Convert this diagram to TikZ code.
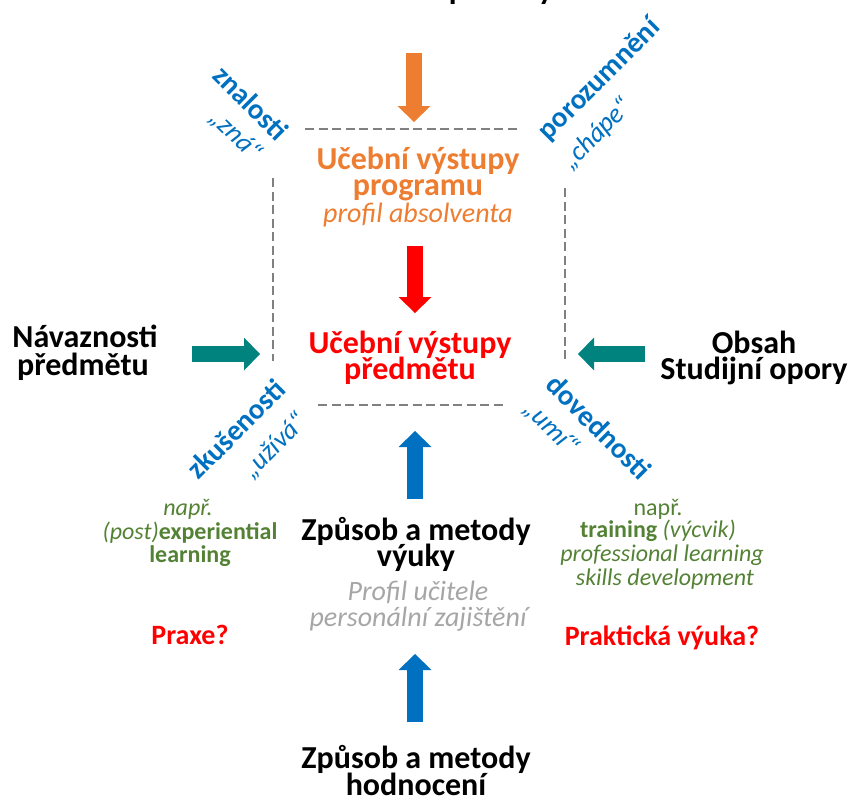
\documentclass[tikz,border=0pt]{standalone}
\usepackage{fontspec}
\setmainfont{Carlito}
\usetikzlibrary{arrows.meta}
\definecolor{orangeC}{HTML}{ED7D31}
\definecolor{redC}{HTML}{FF0000}
\definecolor{blueC}{HTML}{0070C0}
\definecolor{tealC}{HTML}{00827F}
\definecolor{greenC}{HTML}{548235}
\definecolor{grayT}{HTML}{A6A6A6}
\definecolor{dashC}{HTML}{808080}
\begin{document}
\begin{tikzpicture}[x=1pt,y=-1pt,
  every node/.style={inner sep=0pt,outer sep=0pt},
  big/.style={font=\fontsize{32}{32}\selectfont\bfseries,anchor=base},
  itl/.style={font=\fontsize{28}{28}\selectfont\itshape,anchor=base},
  grn/.style={font=\fontsize{24}{24}\selectfont,text=greenC,anchor=base},
  qst/.style={font=\fontsize{28}{28}\selectfont\bfseries,text=redC,anchor=base},
  rotb/.style={font=\fontsize{29}{29}\selectfont\bfseries,text=blueC},
  roti/.style={font=\fontsize{27}{27}\selectfont\itshape,text=blueC},
  blockarrow/.style={line width=16pt,draw=#1,-{Triangle[width=33pt,length=16pt,line width=0pt,fill=#1]}},
  dashline/.style={draw=dashC,line width=2.5pt,dash pattern=on 9pt off 4.5pt}
]
\useasboundingbox (0,0) rectangle (856,798);

% dashed frame (corners hidden by the rotated labels)
\draw[dashline] (305,129) -- (520,129);
\draw[dashline] (273,178) -- (273,361);
\draw[dashline] (565,188) -- (565,362);
\draw[dashline] (318,405) -- (507,405);

% top text (clipped by the page edge)
\node[big] (top) at (440,-1) {Oborové potřeby};

% programme outcomes
\node[big,text=orangeC] (p1) at (418,169) {Učební výstupy};
\node[big,text=orangeC] (p2) at (418,195) {programu};
\node[itl,text=orangeC] (p3) at (418,222) {profil absolventa};

% course outcomes
\node[big,text=redC] (s1) at (410,353) {Učební výstupy};
\node[big,text=redC] (s2) at (410,379) {předmětu};

% left and right inputs
\node[big] (n1) at (85,347) {Návaznosti};
\node[big] (n2) at (83,375) {předmětu};
\node[big] (o1) at (754,353) {Obsah};
\node[big] (o2) at (754,379) {Studijní opory};

% teaching
\node[big] (m1) at (416,540) {Způsob a metody};
\node[big] (m2) at (416,566) {výuky};
\node[itl,text=grayT] (g1) at (418,600) {Profil učitele};
\node[itl,text=grayT] (g2) at (418,626) {personální zajištění};

% assessment
\node[big] (b1) at (416,768) {Způsob a metody};
\node[big] (b2) at (416,795) {hodnocení};

% green notes
\node[grn] (l1) at (188,515) {\itshape např.};
\node[grn] (l2) at (190,539) {\textit{(post)}\textbf{experiential}};
\node[grn] (l3) at (190,562) {\textbf{learning}};
\node[grn] (r1) at (658,515) {např.};
\node[grn] (r2) at (658,537) {\textbf{training} \textit{(výcvik)}};
\node[grn] (r3) at (662,561) {\textit{professional learning}};
\node[grn] (r4) at (665,585) {\textit{skills development}};

\node[qst] (q1) at (190,644) {Praxe?};
\node[qst] (q2) at (662,645) {Praktická výuka?};

% rotated labels
\node[rotb,rotate=-45] (zn1) at (251,103) {znalosti};
\node[roti,rotate=-45] (zn2) at (236,135) {„zná“};
\node[rotb,rotate=45] (po1) at (600,80) {porozumnění};
\node[roti,rotate=45] (po2) at (597,134) {„chápe“};
\node[rotb,rotate=45] (zk1) at (236,429) {zkušenosti};
\node[roti,rotate=45] (zk2) at (275,446) {„užívá“};
\node[rotb,rotate=-45] (do1) at (599,427) {dovednosti};
\node[roti,rotate=-45] (do2) at (551,428) {„umí“};

% arrow end points
\coordinate (oa) at (414,53);  \coordinate (ob) at (414,122);
\coordinate (ra) at (415,246); \coordinate (rb) at (415,313);
\coordinate (ma) at (415,499); \coordinate (mb) at (415,431);
\coordinate (ba) at (415,722); \coordinate (bb) at (415,654);
\coordinate (la) at (192,354); \coordinate (lb) at (260,354);
\coordinate (ta) at (645,354); \coordinate (tb) at (578,354);

\draw[blockarrow=orangeC] (oa) -- (ob);
\draw[blockarrow=redC] (ra) -- (rb);
\draw[blockarrow=blueC] (ma) -- (mb);
\draw[blockarrow=blueC] (ba) -- (bb);
\draw[blockarrow=tealC] (la) -- (lb);
\draw[blockarrow=tealC] (ta) -- (tb);
\end{tikzpicture}
\end{document}
